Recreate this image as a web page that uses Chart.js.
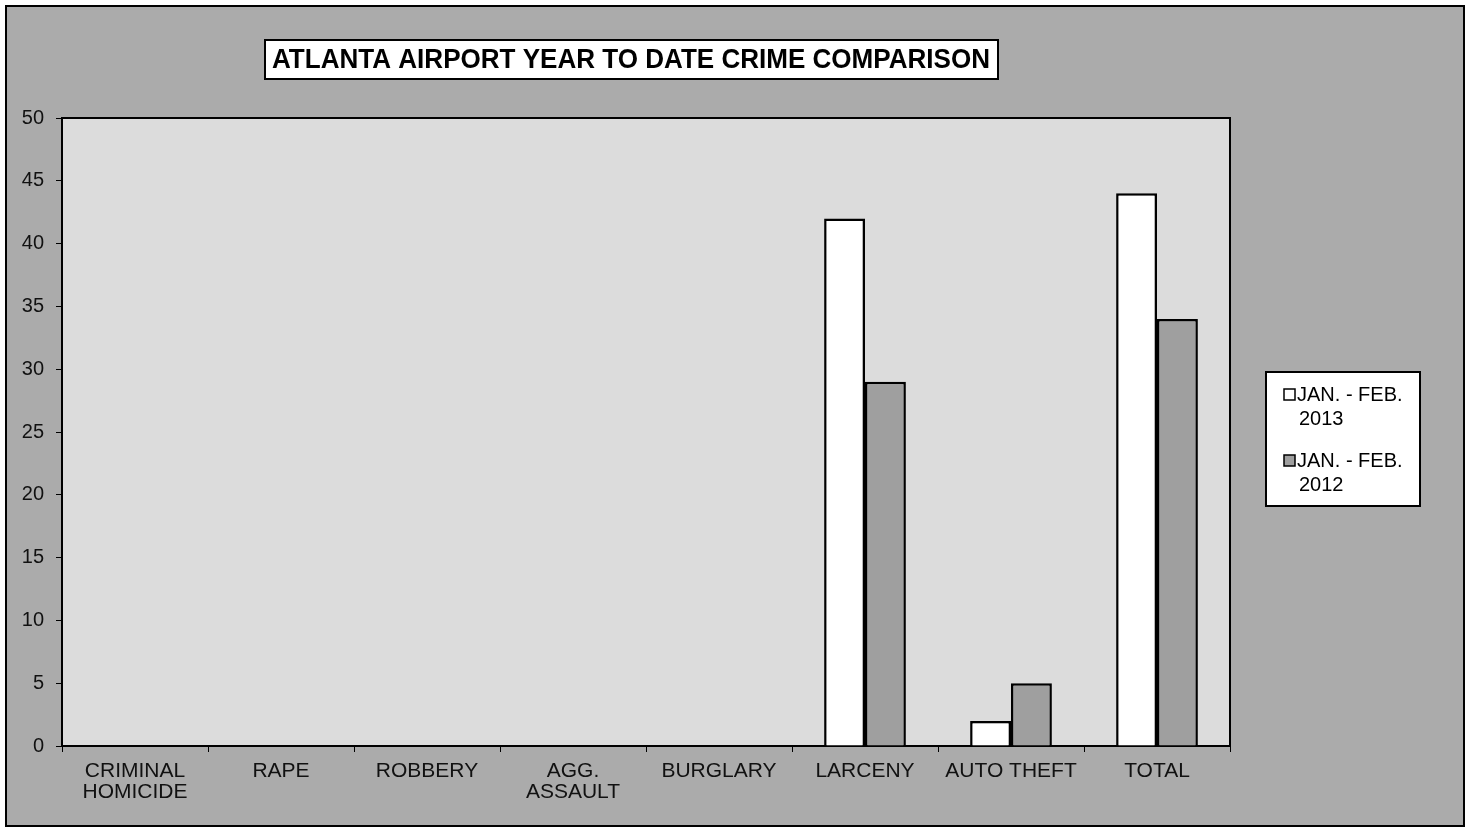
<!DOCTYPE html>
<html>
<head>
<meta charset="utf-8">
<script src="https://cdn.jsdelivr.net/npm/chart.js@4.4.0/dist/chart.umd.min.js"></script>
<style>
  html, body { margin: 0; padding: 0; background: #fff; }
  #wrap { width: 1470px; height: 832px; }
</style>
</head>
<body>
<div id="wrap"><canvas id="crimeChart" width="1470" height="832"></canvas></div>
<script>
const categorias = [
  ["CRIMINAL", "HOMICIDE"], "RAPE", "ROBBERY", ["AGG.", "ASSAULT"],
  "BURGLARY", "LARCENY", "AUTO THEFT", "TOTAL"
];
const jan2013 = [0, 0, 0, 0, 0, 42, 2, 44];
const jan2012 = [0, 0, 0, 0, 0, 29, 5, 34];
const legenda = [["JAN. - FEB.", "2013"], ["JAN. - FEB.", "2012"]];
const titulo = "ATLANTA AIRPORT YEAR TO DATE CRIME COMPARISON";

const fundo = "#ababab";
const fundoPlot = "#dcdcdc";
const cinzaBarra = "#9f9f9f";
const fonte = "'Liberation Sans', Arial, sans-serif";

// fundo, moldura, titulo e legenda
const moldura = {
  id: "moldura",
  beforeDraw(chart) {
    const ctx = chart.ctx;
    const a = chart.chartArea;
    ctx.save();
    ctx.fillStyle = "#fff";
    ctx.fillRect(0, 0, 1470, 832);
    ctx.fillStyle = fundo;
    ctx.fillRect(6, 6, 1458, 820);
    ctx.strokeStyle = "#000";
    ctx.lineWidth = 2;
    ctx.strokeRect(6, 6, 1458, 820);
    ctx.fillStyle = fundoPlot;
    ctx.fillRect(a.left, a.top, a.right - a.left, a.bottom - a.top);
    ctx.restore();
  },
  afterDraw(chart) {
    const ctx = chart.ctx;
    const a = chart.chartArea;
    ctx.save();
    ctx.strokeStyle = "#000";
    ctx.lineWidth = 2;
    ctx.beginPath();
    ctx.moveTo(a.left, a.top);
    ctx.lineTo(a.right, a.top);
    ctx.lineTo(a.right, a.bottom);
    ctx.stroke();

    // titulo
    ctx.fillStyle = "#fff";
    ctx.fillRect(265, 40, 733, 39);
    ctx.strokeRect(265, 40, 733, 39);
    ctx.fillStyle = "#000";
    ctx.font = "bold 27px " + fonte;
    ctx.textBaseline = "middle";
    const w = ctx.measureText(titulo).width;
    ctx.translate(272, 61);
    ctx.scale(718 / w, 1);
    ctx.fillText(titulo, 0, 0);
    ctx.setTransform(1, 0, 0, 1, 0, 0);

    // legenda
    ctx.fillStyle = "#fff";
    ctx.fillRect(1266, 372, 154, 134);
    ctx.strokeRect(1266, 372, 154, 134);
    ctx.font = "20px " + fonte;
    ctx.textBaseline = "middle";
    chart.data.datasets.forEach((ds, i) => {
      const y = 395 + i * 66;
      ctx.fillStyle = ds.backgroundColor;
      ctx.lineWidth = 1.5;
      ctx.fillRect(1284, y - 6, 11, 11);
      ctx.strokeRect(1284, y - 6, 11, 11);
      ctx.fillStyle = "#000";
      ctx.fillText(legenda[i][0], 1297, y);
      ctx.fillText(legenda[i][1], 1299, y + 24);
    });
    ctx.restore();
  }
};

const ctx = document.getElementById("crimeChart").getContext("2d");
const chart = new Chart(ctx, {
  type: "bar",
  data: {
    labels: categorias,
    datasets: [
      {
        label: "JAN. - FEB. 2013",
        data: jan2013,
        backgroundColor: "#ffffff",
        borderColor: "#000",
        borderWidth: 2.5,
        borderSkipped: "bottom"
      },
      {
        label: "JAN. - FEB. 2012",
        data: jan2012,
        backgroundColor: cinzaBarra,
        borderColor: "#000",
        borderWidth: 2.5,
        borderSkipped: "bottom"
      }
    ]
  },
  options: {
    responsive: false,
    animation: false,
    devicePixelRatio: 1,
    layout: { padding: { left: 0, right: 240, top: 118, bottom: 0 } },
    categoryPercentage: 0.56,
    barPercentage: 1,
    plugins: {
      legend: { display: false },
      title: { display: false },
      tooltip: { enabled: false }
    },
    scales: {
      y: {
        min: 0,
        max: 50,
        afterFit: s => { s.width = 62; },
        border: { color: "#000", width: 2 },
        grid: { drawOnChartArea: false, color: "#000", tickLength: 6 },
        ticks: {
          stepSize: 5,
          padding: 12,
          color: "#111",
          font: { family: fonte, size: 20 }
        }
      },
      x: {
        afterFit: s => { s.height = 86; },
        border: { color: "#000", width: 2 },
        grid: { drawOnChartArea: false, color: "#000", tickLength: 6, offset: true },
        ticks: {
          padding: 9,
          maxRotation: 0,
          autoSkip: false,
          color: "#111",
          font: { family: fonte, size: 21, lineHeight: 0.98 }
        }
      }
    }
  },
  plugins: [moldura]
});
</script>
</body>
</html>
